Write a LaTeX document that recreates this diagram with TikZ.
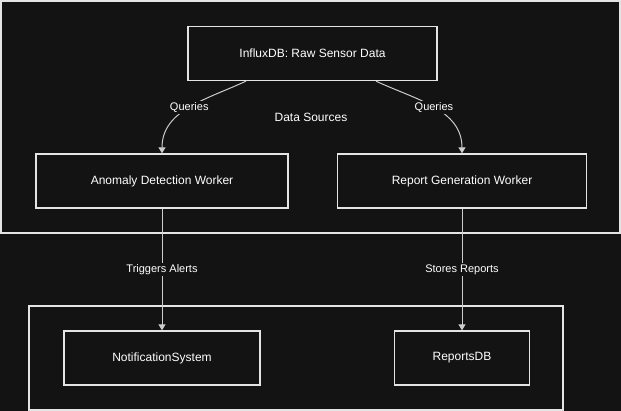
\documentclass[tikz,border=0pt]{standalone}
\usepackage{fontspec}
\setmainfont{Liberation Sans}
\usetikzlibrary{arrows.meta}
\definecolor{bgdark}{RGB}{19,19,19}
\definecolor{edgegray}{RGB}{205,205,205}
\definecolor{boxline}{RGB}{228,228,228}
\tikzstyle{box} = [draw=boxline,line width=1.3pt,fill=bgdark,text=white,minimum height=54pt,font=\fontsize{12}{14}\selectfont]
\tikzstyle{cluster} = [draw=boxline,line width=1.3pt]
\tikzstyle{arrow} = [edgegray,line width=1pt,-{Triangle[width=7pt,length=6pt]}]
\tikzstyle{lbl} = [fill=bgdark,text=white,inner sep=1.5pt,font=\fontsize{11}{13}\selectfont]

\begin{document}
\begin{tikzpicture}[x=1pt,y=1pt]
\fill[bgdark] (0,0) rectangle (621,411);
\useasboundingbox (0,0) rectangle (621,411);

\coordinate (srcNW) at (1,410);
\coordinate (srcSE) at (620,178);
\coordinate (outNW) at (29,105);
\coordinate (outSE) at (563,1);

\draw [cluster] (srcNW) rectangle (srcSE);
\draw [cluster] (outNW) rectangle (outSE);
\node [text=white,font=\fontsize{12}{14}\selectfont] (srclabel) at (311,294) {Data Sources};

\node [box,minimum width=249pt] (influx)    at (312.5,357.5) {InfluxDB: Raw Sensor Data};
\node [box,minimum width=252pt] (anomaly)   at (162,230)     {Anomaly Detection Worker};
\node [box,minimum width=249pt] (report)    at (462,230)     {Report Generation Worker};
\node [box,minimum width=196pt] (notify)    at (162,53)      {NotificationSystem};
\node [box,minimum width=135pt] (reportsdb) at (462,53)      {ReportsDB};

\draw [arrow] ([xshift=-66.5pt]influx.south) to[out=205,in=90] node[lbl]{Queries} (anomaly.north);
\draw [arrow] ([xshift=63.5pt]influx.south) to[out=-25,in=90] node[lbl]{Queries} (report.north);
\draw [arrow] (anomaly) -- node[lbl]{Triggers Alerts} (notify);
\draw [arrow] (report) -- node[lbl]{Stores Reports} (reportsdb);

\end{tikzpicture}
\end{document}
